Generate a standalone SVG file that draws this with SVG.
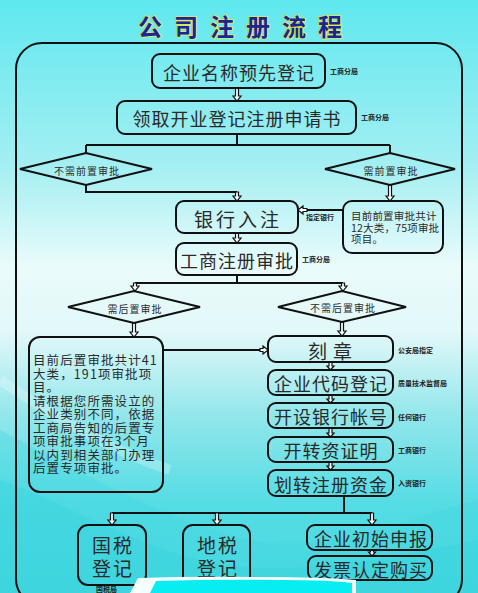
<svg xmlns="http://www.w3.org/2000/svg" width="478" height="593" viewBox="0 0 478 593">
<defs>
<linearGradient id="bg" x1="0" y1="0" x2="0" y2="1">
<stop offset="0" stop-color="#5fe8ef"/>
<stop offset="0.28" stop-color="#a4eff2"/>
<stop offset="0.45" stop-color="#eafbfb"/>
<stop offset="0.56" stop-color="#e2f8f9"/>
<stop offset="0.7" stop-color="#92e7eb"/>
<stop offset="0.85" stop-color="#55dce4"/>
<stop offset="1" stop-color="#4ad8e1"/>
</linearGradient>
<style>
.box{fill:none;stroke:#111;stroke-width:2}
.ln{fill:none;stroke:#111;stroke-width:2}
.ha{fill:#f4ffff;stroke:#111;stroke-width:1.2;stroke-linejoin:miter}
.t{font-family:"Noto Sans CJK SC","Noto Sans",sans-serif;fill:#2a2a2a;text-anchor:middle;dominant-baseline:central}
.big{font-size:18px;letter-spacing:1px}
.dia{font-size:10px;letter-spacing:1px}
.lab{font-family:"Noto Sans CJK SC","Noto Sans",sans-serif;font-size:7px;font-weight:bold;fill:#222;dominant-baseline:central}
.para{font-family:"Noto Sans CJK SC","Noto Sans",sans-serif;fill:#2a2a2a}
</style>
</defs>
<rect width="478" height="593" fill="url(#bg)"/>
<path d="M0,430 C80,470 160,520 250,540 C330,555 400,520 478,500 L478,593 L0,593 Z" fill="#3fd6e0" opacity="0.35"/>
<path d="M0,480 C60,500 120,540 200,560 C280,580 380,560 478,540 L478,593 L0,593 Z" fill="#2fd0dc" opacity="0.3"/>
<path d="M0,380 C60,420 110,450 170,470" fill="none" stroke="#ffffff" stroke-width="10" opacity="0.25"/>

<!-- title -->
<text x="246" y="25" font-family="Noto Sans CJK SC,sans-serif" font-size="24" font-weight="bold" fill="#1a2596" stroke="#e6e64a" stroke-width="1.6" paint-order="stroke" text-anchor="middle" dominant-baseline="central" letter-spacing="12">公司注册流程</text>

<!-- outer frame -->
<rect x="16" y="43" width="446" height="562" rx="26" class="box"/>

<!-- connectors -->
<g id="connectors">
<path class="ha" d="M235.5,88 V96 H233 L237,101 L241,96 H238.5 V88 Z"/>
<path class="ln" d="M237,134 V145 M86,145 H390 M86,145 V153 M390,145 V153"/>
<path class="ln" d="M86,185 V192 H237"/>
<path class="ha" d="M235.5,192 V196 H233 L237,201 L241,196 H238.5 V192 Z"/>
<path class="ha" d="M388.5,185 V196 H386 L390,201 L394,196 H391.5 V185 Z"/>
<path class="ln" d="M343,210 H307"/>
<path class="ha" d="M307,208.5 H303 V206 L298,210 L303,214 V211.5 H307 Z"/>
<path class="ha" d="M235.5,233 V238 H233 L237,243 L241,238 H238.5 V233 Z"/>
<path class="ln" d="M237,275 V283 M135,283 H343"/>
<path class="ha" d="M133.5,283 V286 H131 L135,291 L139,286 H136.5 V283 Z"/>
<path class="ha" d="M341.5,283 V286 H339 L343,291 L347,286 H344.5 V283 Z"/>
<path class="ha" d="M132.5,323 V332 H130 L134,337 L138,332 H135.5 V323 Z"/>
<path class="ha" d="M340.5,322 V331 H338 L342,336 L346,331 H343.5 V322 Z"/>
<path class="ln" d="M163,350 H260"/>
<path class="ha" d="M260,348.5 H263 V346 L268,350 L263,354 V351.5 H260 Z"/>
<path class="ha" d="M329,362 V366 H327 L330.5,370 L334,366 H332 V362 Z"/>
<path class="ha" d="M329,395 V399 H327 L330.5,403 L334,399 H332 V395 Z"/>
<path class="ha" d="M329,428 V433 H327 L330.5,437 L334,433 H332 V428 Z"/>
<path class="ha" d="M329,462 V466 H327 L330.5,470 L334,466 H332 V462 Z"/>
<path class="ln" d="M344,496 V513 M112,513 H372"/>
<path class="ha" d="M110.5,513 V520 H108 L112,525 L116,520 H113.5 V513 Z"/>
<path class="ha" d="M215.5,513 V520 H213 L217,525 L221,520 H218.5 V513 Z"/>
<path class="ha" d="M370.5,513 V520 H368 L372,525 L376,520 H373.5 V513 Z"/>
<path class="ha" d="M370.5,550 V552 H368.5 L372,556 L375.5,552 H373.5 V550 Z"/>
</g>

<g id="n1"><rect x="152" y="54" width="173" height="34" rx="8" class="box"/><text x="239" y="72" class="t big">企业名称预先登记</text><text x="330" y="71" class="lab">工商分局</text></g>
<g id="n2"><rect x="117" y="101" width="239" height="33" rx="8" class="box"/><text x="237" y="118" class="t big">领取开业登记注册申请书</text><text x="361" y="117" class="lab">工商分局</text></g>
<g id="d1"><polygon points="20,169 86,153 152,169 86,185" class="box"/><text x="87" y="170" class="t dia">不需前置审批</text></g>
<g id="d2"><polygon points="325,169 390,153 455,169 390,185" class="box"/><text x="391" y="170" class="t dia">需前置审批</text></g>
<g id="n3"><rect x="176" y="201" width="122" height="32" rx="8" class="box"/><text x="238" y="218" class="t" font-size="19" letter-spacing="3">银行入注</text><text x="306" y="217" class="lab">指定银行</text></g>
<g id="n4"><rect x="343" y="201" width="100" height="52" rx="9" class="box"/>
<text class="para" font-size="10.5" letter-spacing="0.2"><tspan x="351" y="220">目前前置审批共计</tspan><tspan x="351" y="231.5">12大类，75项审批</tspan><tspan x="351" y="243">项目。</tspan></text></g>
<g id="n5"><rect x="176" y="243" width="121" height="32" rx="8" class="box"/><text x="237" y="260" class="t big">工商注册审批</text><text x="302" y="259" class="lab">工商分局</text></g>
<g id="d3"><polygon points="68,307 134,291 200,307 134,323" class="box"/><text x="135" y="308" class="t dia">需后置审批</text></g>
<g id="d4"><polygon points="278,307 342,291 406,307 342,322" class="box"/><text x="343" y="307" class="t dia">不需后置审批</text></g>
<g id="n6"><rect x="29" y="337" width="134" height="155" rx="11" class="box"/>
<text class="para" font-size="12.5" letter-spacing="1.1"><tspan x="33" y="365">目前后置审批共计41</tspan><tspan x="33" y="378.5">大类，191项审批项</tspan><tspan x="33" y="392">目。</tspan><tspan x="33" y="405.5">请根据您所需设立的</tspan><tspan x="33" y="419">企业类别不同，依据</tspan><tspan x="33" y="432.5">工商局告知的后置专</tspan><tspan x="33" y="446">项审批事项在3个月</tspan><tspan x="33" y="459.5">以内到相关部门办理</tspan><tspan x="33" y="473">后置专项审批。</tspan></text></g>
<g id="n7"><rect x="268" y="336" width="125" height="26" rx="8" class="box"/><text x="333" y="350" class="t" font-size="19" letter-spacing="6">刻章</text><text x="398" y="350" class="lab">公安局指定</text></g>
<g id="n8"><rect x="268" y="370" width="125" height="25" rx="8" class="box"/><text x="331" y="383" class="t big">企业代码登记</text><text x="398" y="383" class="lab">质量技术监督局</text></g>
<g id="n9"><rect x="268" y="403" width="125" height="25" rx="8" class="box"/><text x="331" y="416" class="t big">开设银行帐号</text><text x="398" y="417" class="lab">任何银行</text></g>
<g id="n10"><rect x="268" y="437" width="125" height="25" rx="8" class="box"/><text x="331" y="450" class="t big">开转资证明</text><text x="398" y="450" class="lab">工商银行</text></g>
<g id="n11"><rect x="268" y="470" width="125" height="26" rx="8" class="box"/><text x="331" y="484" class="t big">划转注册资金</text><text x="398" y="483" class="lab">入资银行</text></g>
<g id="n12"><rect x="78" y="525" width="68" height="60" rx="10" class="box"/><text x="113" y="544" class="t" font-size="19" letter-spacing="2">国税</text><text x="113" y="567" class="t" font-size="19" letter-spacing="2">登记</text><text x="96" y="589" class="lab">国税局</text></g>
<g id="n13"><rect x="183" y="525" width="67" height="75" rx="10" class="box"/><text x="218" y="544" class="t" font-size="19" letter-spacing="2">地税</text><text x="218" y="567" class="t" font-size="19" letter-spacing="2">登记</text></g>
<g id="n14"><rect x="307" y="525" width="125" height="25" rx="8" class="box"/><text x="371" y="538" class="t big">企业初始申报</text></g>
<g id="n15"><rect x="308" y="556" width="124" height="24" rx="8" class="box"/><text x="371" y="569" class="t big">发票认定购买</text></g>

<!-- bottom blob -->
<path d="M138,578 Q200,576 260,577 Q320,577 356,580 L356,593 L130,593 Z" fill="#f6ffff"/>
<path d="M156,581 Q220,579 280,580 Q330,580 352,583 L352,593 L150,593 Z" fill="#08eef0"/>
</svg>
